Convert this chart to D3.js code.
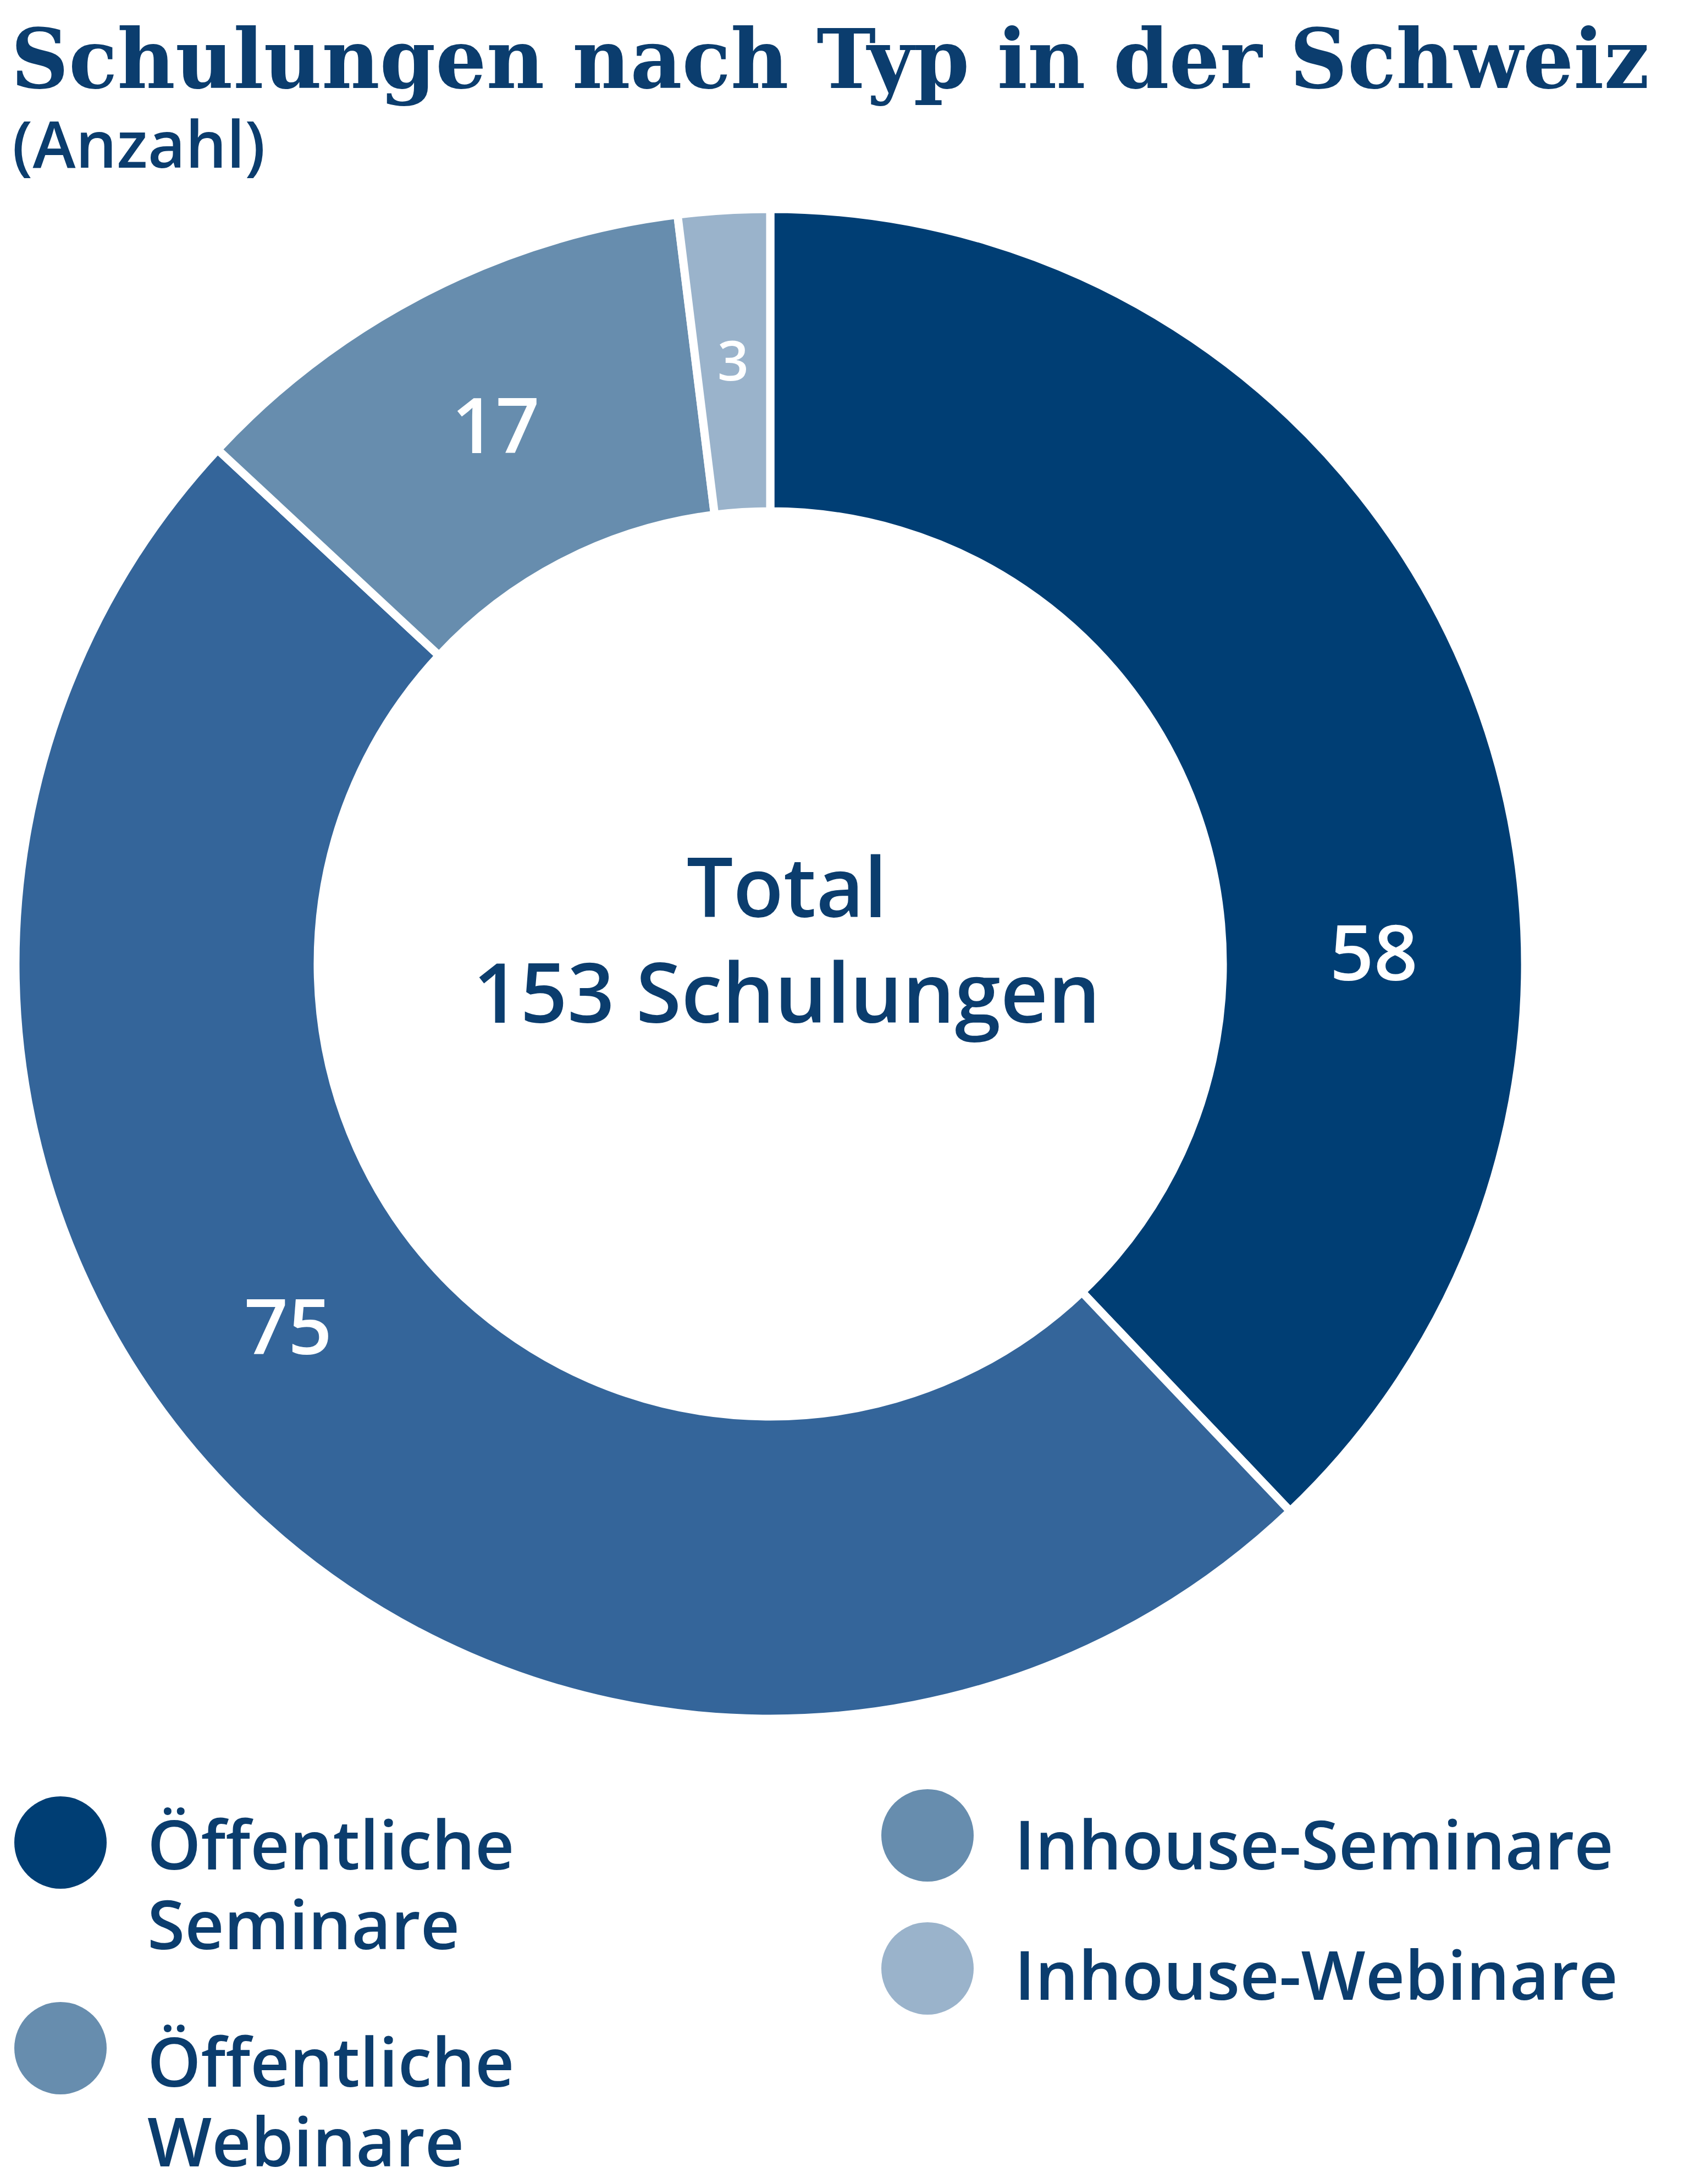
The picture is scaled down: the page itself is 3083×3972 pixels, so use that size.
<!DOCTYPE html>
<html><head><meta charset="utf-8">
<script src="https://cdn.jsdelivr.net/npm/d3@7"></script>
<style>body{margin:0;background:#fff}</style></head>
<body><svg id="c" width="3083" height="3972"></svg>
<script>
const categories = ["Öffentliche Seminare","Öffentliche Webinare","Inhouse-Seminare","Inhouse-Webinare"];
const sliceLabels = ["58","75","17","3"];
const values = [58,75,17,3];
const sliceColors = ["#003e74","#34659a","#678dae","#9ab3cb"];
const legendColors = ["#003e74","#678dae","#678dae","#9ab3cb"];
const labelAngleDeg = [89,233,null,null]; // null = slice centroid
const col = "#0b3d6e";
const svg = d3.select("#c");
svg.append("text").attr("x",20).attr("y",160).attr("font-family","DejaVu Serif").attr("font-weight","bold")
  .attr("font-size",150).attr("fill",col).attr("textLength",2980).attr("lengthAdjust","spacingAndGlyphs")
  .text("Schulungen nach Typ in der Schweiz");
svg.append("text").attr("x",22).attr("y",305).attr("font-family","Open Sans").attr("font-weight",600).attr("font-size",118).attr("fill",col).text("(Anzahl)");
const cx=1401, cy=1753, R=1373, r=823;
const g = svg.append("g").attr("transform",`translate(${cx},${cy})`);
const pie = d3.pie().sort(null).value(d=>d)(values);
const arc = d3.arc().innerRadius(r).outerRadius(R);
g.selectAll("path").data(pie).join("path").attr("d",arc).attr("fill",(d,i)=>sliceColors[i])
  .attr("stroke","#fff").attr("stroke-width",15).attr("stroke-linejoin","miter");
const lr=(R+r)/2;
const la = d3.arc().innerRadius(lr).outerRadius(lr);
function lpos(d,i){
  if(labelAngleDeg[i]==null) return la.centroid(d);
  const a=labelAngleDeg[i]*Math.PI/180; return [lr*Math.sin(a), -lr*Math.cos(a)];
}
g.selectAll("text.l").data(pie).join("text").attr("class","l")
  .attr("transform",(d,i)=>`translate(${lpos(d,i)})`).attr("text-anchor","middle").attr("dy","0.35em")
  .attr("font-family","Open Sans").attr("font-weight",600).attr("font-size",(d,i)=>i==3?100:140).attr("fill","#fff")
  .text((d,i)=>sliceLabels[i]);
g.append("text").attr("text-anchor","middle").attr("x",30).attr("y",-85).attr("font-family","Open Sans").attr("font-weight",600).attr("font-size",150).attr("fill",col).text("Total");
g.append("text").attr("text-anchor","middle").attr("x",30).attr("y",107).attr("font-family","Open Sans").attr("font-weight",600).attr("font-size",150).attr("fill",col).text("153 Schulungen");
const leg = [
 {cx:110,cy:3351,lines:["Öffentliche","Seminare"],y:3400},
 {cx:110,cy:3725,lines:["Öffentliche","Webinare"],y:3795},
 {cx:1687,cy:3338,lines:["Inhouse-Seminare"],y:3400},
 {cx:1687,cy:3580,lines:["Inhouse-Webinare"],y:3637}];
leg.forEach((l,i)=>{
  svg.append("circle").attr("cx",l.cx).attr("cy",l.cy).attr("r",84).attr("fill",legendColors[i]);
  l.lines.forEach((t,j)=>svg.append("text").attr("x",l.cx+158).attr("y",l.y+j*145)
    .attr("font-family","Open Sans").attr("font-weight",600).attr("font-size",124).attr("fill",col).text(t));
});
</script></body></html>
